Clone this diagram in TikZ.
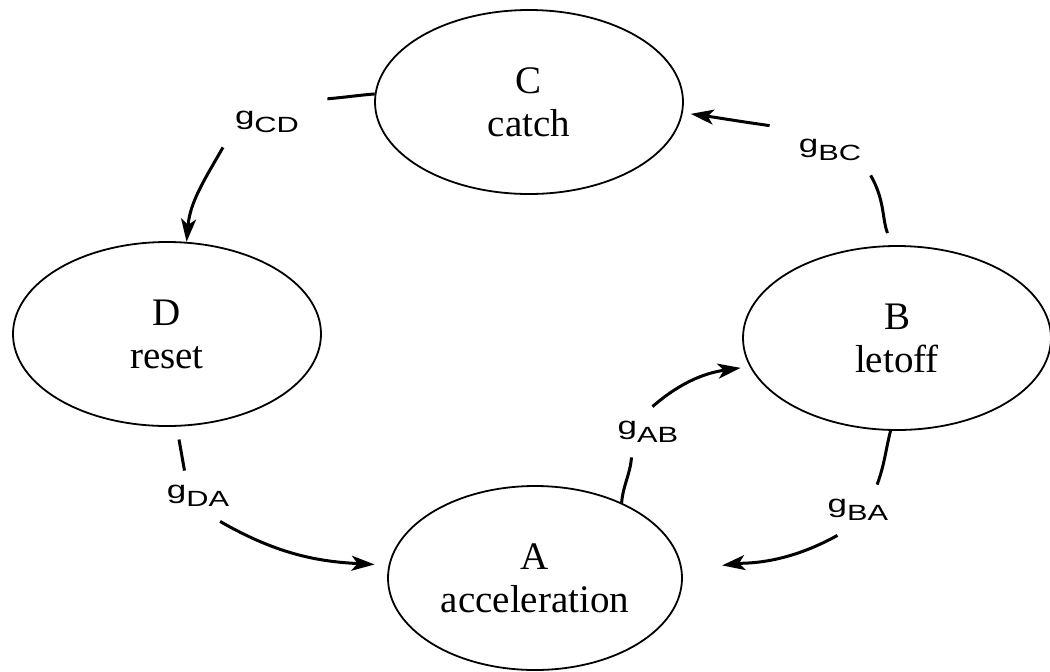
\documentclass[tikz,border=0pt]{standalone}
\usepackage{fontspec}
\setmainfont{Liberation Serif}
\setsansfont{Liberation Sans}
\usepackage{graphicx}
\usetikzlibrary{arrows.meta,shapes.geometric}
\newcommand{\gsub}[1]{\scalebox{1.4}[1]{\sffamily\fontsize{12.5}{12.5}\selectfont g\raisebox{-4pt}{\fontsize{11}{11}\selectfont #1}}}

\begin{document}
\begin{tikzpicture}[x=0.5pt, y=-0.5pt,
  state/.style={draw, ellipse, line width=0.9pt, minimum width=154pt, minimum height=92pt,
    inner sep=0pt, align=center, font=\fontsize{19.5}{21.5}\selectfont},
  lbl/.style={minimum width=60pt, minimum height=25pt, inner sep=0pt},
  seg/.style={line width=1.5pt},
  trans/.style={seg, -{Stealth[length=11.5pt, width=7.5pt, inset=3pt]}}]
  \useasboundingbox (0,0) rectangle (1050,671);
  \node[state] (C) at (529,102) {C\\catch};
  \node[state] (D) at (167,334) {D\\reset};
  \node[state] (B) at (897,338) {B\\letoff};
  \node[state, minimum width=147pt] (A) at (535,578) {A\\acceleration};
  \node[lbl] (lCD) at (267,122) {\gsub{CD}};
  \node[lbl] (lDA) at (198,496) {\gsub{DA}};
  \node[lbl] (lAB) at (648,432) {\gsub{AB}};
  \node[lbl] (lBA) at (858,510) {\gsub{BA}};
  \node[lbl] (lBC) at (830,150) {\gsub{BC}};
  \draw[seg] (C.177) to[out=185, in=5] (lCD.21);
  \draw[trans] (lCD.210) to[out=240, in=85] (D.78);
  \draw[seg, shorten <=6.5pt] (D.-84) to[out=-80, in=100] (lDA.118);
  \draw[trans, shorten >=7pt] (lDA.-49) to[out=-30, in=177] (A.175);
  \draw[seg] (A.41) to[out=85, in=265] (lAB.237);
  \draw[trans, shorten >=4.5pt] (lAB.80) to[out=41, in=188] (B.191);
  \draw[seg] (B.266) to[out=256, in=70] (lBA.53);
  \draw[trans, shorten >=20pt] (lBA.231) to[out=209, in=7] (A.3);
  \draw[seg, shorten <=6.5pt] (B.93) to[out=111, in=-60] (lBC.-32);
  \draw[trans, shorten >=4pt] (lBC.158) to[out=172, in=-8] (C.-4);
\end{tikzpicture}
\end{document}
